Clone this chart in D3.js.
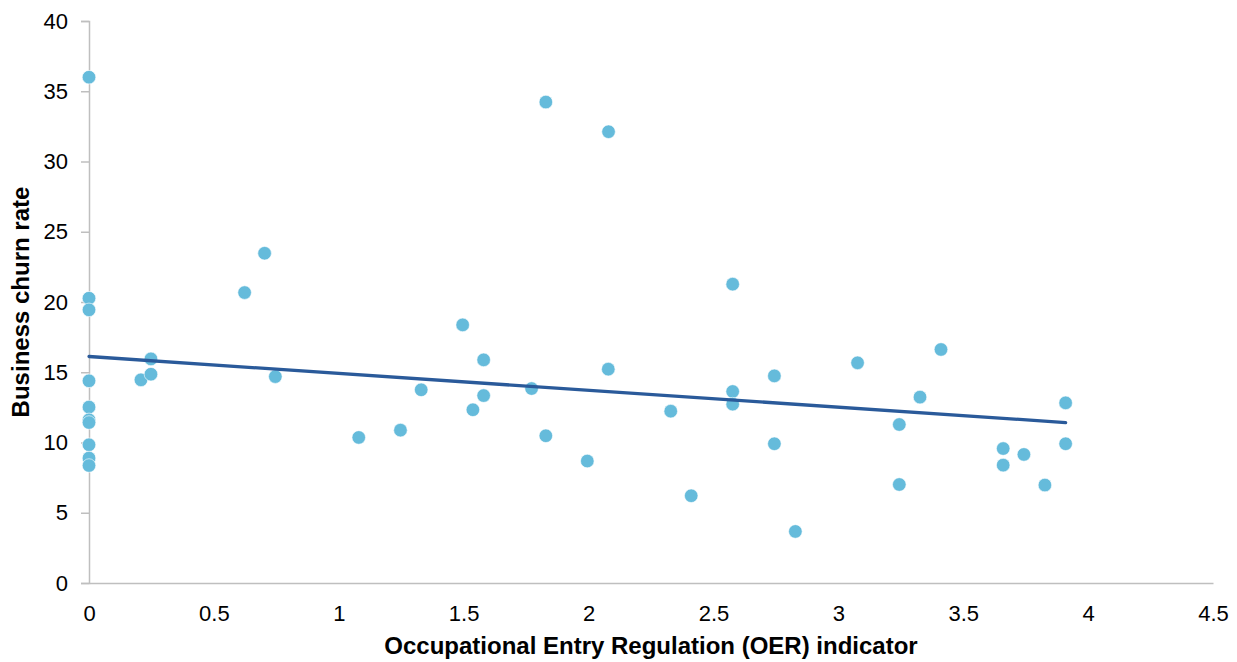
<!DOCTYPE html>
<html>
<head>
<meta charset="utf-8">
<script src="https://cdn.jsdelivr.net/npm/d3@7"></script>
<style>
  body { margin: 0; background: #fff; }
  text { font-family: "Liberation Sans", Arial, sans-serif; }
</style>
</head>
<body>
<div id="chart"></div>
<script>
// OER indicator (x) vs business churn rate (y)
const oer = [
  0, 0, 0, 0, 0, 0, 0, 0, 0, 0,
  0.208, 0.248, 0.248, 0.623, 0.703, 0.746,
  2.577, 1.496, 1.580, 2.079, 2.744, 1.330, 1.772, 1.580, 2.577, 2.577,
  1.537, 2.329, 1.080, 1.247, 1.829, 2.744, 1.995, 2.411, 2.828,
  1.829, 2.080,
  3.077, 3.411, 3.327, 3.244, 3.910, 3.910, 3.660, 3.743, 3.660, 3.244, 3.827
];
const churn = [
  36.0, 20.27, 19.44, 14.39, 12.52, 11.61, 11.42, 9.84, 8.89, 8.36,
  14.46, 15.95, 14.86, 20.67, 23.47, 14.69,
  21.27, 18.37, 15.88, 15.22, 14.74, 13.75, 13.84, 13.34, 13.63, 12.73,
  12.33, 12.23, 10.36, 10.88, 10.48, 9.91, 8.68, 6.21, 3.67,
  34.23, 32.12,
  15.67, 16.62, 13.23, 11.28, 12.82, 9.91, 9.57, 9.15, 8.39, 7.01, 6.97
];
// linear trend line end points
const trendX = [0, 3.91];
const trendY = [16.12, 11.42];

const xTicks = [0, 0.5, 1, 1.5, 2, 2.5, 3, 3.5, 4, 4.5];
const yTicks = [0, 5, 10, 15, 20, 25, 30, 35, 40];

const width = 1237, height = 662;
const margin = { top: 21, right: 24, bottom: 79, left: 89 };
const tickFont = '22px';
const titleFont = '24px';

const svg = d3.select('#chart').append('svg')
  .attr('width', width)
  .attr('height', height);

const x = d3.scaleLinear().domain([0, 4.5]).range([margin.left, width - margin.right]);
const y = d3.scaleLinear().domain([0, 40]).range([height - margin.bottom, margin.top]);

// y axis
const yAxis = svg.append('g')
  .attr('transform', `translate(${margin.left},0)`)
  .call(d3.axisLeft(y).tickValues(yTicks).tickSize(8).tickPadding(13).tickFormat(d3.format('d')));
yAxis.select('.domain').attr('stroke', '#bfbfbf').attr('stroke-width', 1.5);
yAxis.selectAll('.tick line').attr('stroke', '#bfbfbf').attr('stroke-width', 1.5);
yAxis.selectAll('.tick text').attr('fill', '#000').style('font-size', tickFont)
  .style('font-family', '"Liberation Sans", Arial, sans-serif');

// x axis
const xAxis = svg.append('g')
  .attr('transform', `translate(0,${y(0)})`)
  .call(d3.axisBottom(x).tickValues(xTicks).tickSize(0).tickPadding(22).tickFormat(d => d));
xAxis.select('.domain').attr('stroke', '#bfbfbf').attr('stroke-width', 1.5);
xAxis.selectAll('.tick text').attr('fill', '#000').style('font-size', tickFont)
  .style('font-family', '"Liberation Sans", Arial, sans-serif');

// axis titles
svg.append('text')
  .attr('x', (margin.left + width - margin.right) / 2)
  .attr('y', 654)
  .attr('text-anchor', 'middle')
  .style('font-size', titleFont)
  .style('font-weight', 'bold')
  .text('Occupational Entry Regulation (OER) indicator');

svg.append('text')
  .attr('transform', `translate(28.5,${(y(0) + y(40)) / 2}) rotate(-90)`)
  .attr('text-anchor', 'middle')
  .style('font-size', titleFont)
  .style('font-weight', 'bold')
  .text('Business churn rate');

// points
svg.append('g')
  .selectAll('circle')
  .data(oer.map((d, i) => ({ x: d, y: churn[i] })))
  .join('circle')
  .attr('cx', d => x(d.x))
  .attr('cy', d => y(d.y))
  .attr('r', 6.8)
  .attr('fill', '#65bbdb')
  .attr('stroke', '#fff')
  .attr('stroke-width', 0.6);

// trend line
svg.append('path')
  .datum(trendX.map((d, i) => [d, trendY[i]]))
  .attr('d', d3.line().x(d => x(d[0])).y(d => y(d[1])))
  .attr('fill', 'none')
  .attr('stroke', '#2a5a9a')
  .attr('stroke-width', 3.3)
  .attr('stroke-linecap', 'round');
</script>
</body>
</html>
